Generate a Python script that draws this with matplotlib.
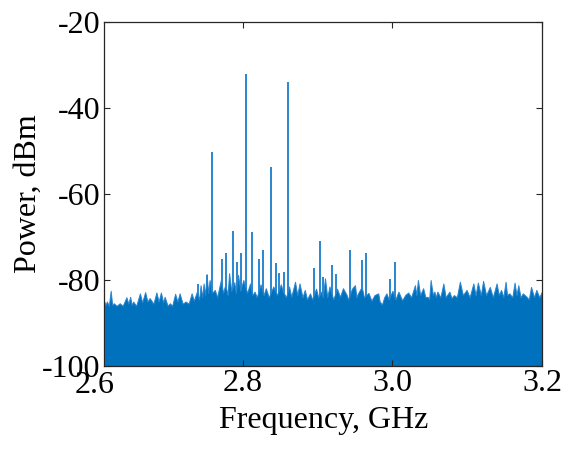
import matplotlib
matplotlib.use("Agg")
import matplotlib.pyplot as plt

# noise floor, upper edge (GHz, dBm)
noise_f = [2.6155, 2.617, 2.619, 2.6215, 2.624, 2.626, 2.628, 2.632, 2.636, 2.640,
           2.645, 2.6475, 2.650, 2.652, 2.654, 2.658, 2.663, 2.666, 2.670, 2.673,
           2.676, 2.681, 2.685, 2.688, 2.691, 2.694, 2.696, 2.700, 2.703, 2.706,
           2.710, 2.713, 2.716, 2.720, 2.724, 2.728, 2.732, 2.735, 2.739, 2.742,
           2.744, 2.746, 2.748, 2.750, 2.752, 2.754, 2.756, 2.759, 2.763, 2.766,
           2.771, 2.774, 2.777, 2.780, 2.782, 2.785, 2.789, 2.791, 2.794, 2.797,
           2.801, 2.806, 2.810, 2.813, 2.816, 2.819, 2.824, 2.828, 2.831, 2.835,
           2.841, 2.846, 2.851, 2.854, 2.858, 2.862, 2.865, 2.870, 2.873, 2.876,
           2.880, 2.883, 2.886, 2.890, 2.893, 2.898, 2.901, 2.905, 2.907, 2.910,
           2.913, 2.916, 2.921, 2.926, 2.930, 2.934, 2.939, 2.941, 2.946, 2.950,
           2.952, 2.954, 2.959, 2.962, 2.968, 2.972, 2.976, 2.981, 2.983, 2.986,
           2.989, 2.992, 2.995, 3.000, 3.004, 3.008, 3.013, 3.017, 3.021, 3.025,
           3.030, 3.032, 3.034, 3.037, 3.041, 3.044, 3.047, 3.049, 3.051, 3.054,
           3.056, 3.058, 3.060, 3.064, 3.068, 3.071, 3.076, 3.079, 3.082, 3.086,
           3.090, 3.094, 3.099, 3.103, 3.108, 3.111, 3.114, 3.118, 3.121, 3.125,
           3.130, 3.134, 3.139, 3.142, 3.145, 3.148, 3.151, 3.153, 3.156, 3.160,
           3.163, 3.1655, 3.168, 3.171, 3.174, 3.179, 3.182, 3.185, 3.189, 3.192,
           3.196, 3.200]
noise_db = [-85.0, -85.8, -85.0, -86.0, -82.5, -85.8, -85.4, -86.0, -85.4, -86.0,
            -84.0, -85.5, -83.9, -85.8, -85.0, -86.0, -83.1, -85.2, -82.8, -85.0,
            -84.2, -85.5, -82.9, -85.0, -82.9, -85.2, -83.9, -86.0, -85.4, -86.0,
            -83.2, -85.0, -83.1, -85.5, -85.0, -85.5, -83.1, -84.8, -82.7, -84.5,
            -81.2, -84.0, -80.8, -83.5, -78.6, -83.0, -80.0, -83.0, -82.3, -84.0,
            -80.0, -83.0, -81.0, -83.5, -78.4, -82.5, -80.5, -83.0, -78.8, -82.5,
            -80.0, -83.0, -80.8, -83.5, -82.7, -84.0, -81.0, -83.5, -81.9, -84.0,
            -81.5, -83.5, -81.0, -82.7, -84.0, -81.5, -83.9, -80.4, -83.5, -80.8,
            -84.0, -82.3, -84.5, -83.1, -84.5, -82.0, -84.0, -82.7, -84.0, -79.6,
            -84.0, -81.5, -84.5, -82.0, -83.9, -81.9, -83.5, -84.5, -82.0, -81.2,
            -84.0, -83.1, -81.6, -84.0, -83.0, -84.8, -83.5, -83.1, -85.0, -85.7,
            -84.0, -83.1, -84.5, -82.5, -84.5, -82.7, -84.7, -83.5, -82.9, -84.0,
            -81.2, -83.5, -80.0, -83.5, -81.9, -84.0, -83.9, -84.5, -80.0, -83.5,
            -82.7, -84.0, -82.7, -84.0, -80.8, -84.0, -82.7, -84.2, -83.5, -84.0,
            -80.4, -83.5, -82.3, -84.0, -80.8, -83.5, -80.6, -83.5, -80.2, -83.5,
            -81.6, -84.0, -80.8, -83.5, -82.3, -84.0, -80.4, -83.5, -83.1, -84.0,
            -80.6, -83.5, -81.2, -84.0, -83.1, -83.9, -84.5, -81.6, -84.0, -82.3,
            -84.0, -82.5]

# spectral lines (GHz, dBm)
peak_f = [2.741, 2.753, 2.759, 2.773, 2.778, 2.7875, 2.793, 2.798, 2.8044, 2.812,
          2.822, 2.827, 2.838, 2.844, 2.849, 2.855, 2.861, 2.8955, 2.9027, 2.908,
          2.919, 2.925, 2.943, 2.9595, 2.965, 2.997, 3.003]
peak_db = [-80.9, -78.8, -50.2, -75.0, -73.7, -68.5, -75.7, -73.7, -32.1, -68.8,
           -75.2, -73.0, -53.7, -76.0, -78.3, -78.1, -34.0, -77.1, -71.0, -79.2,
           -76.5, -78.6, -73.0, -75.3, -73.8, -79.8, -75.7]

y_ticks = [-100, -80, -60, -40, -20]
x_ticks = [2.8, 3.0, 3.2]

blue = "#0072BD"
edge_blue = "#2a86d0"
plt.rcParams["font.family"] = ["Liberation Serif", "DejaVu Serif"]
plt.rcParams["font.size"] = 23

fig = plt.figure(figsize=(5.63, 4.55), dpi=100)
ax = fig.add_axes([0.1853, 0.1956, 0.7779, 0.7560])

# lines first, the noise band covers their lower part
ax.vlines(peak_f, -100, peak_db, color=edge_blue, linewidth=1.4, zorder=1)
ax.fill_between(noise_f, -100, noise_db, facecolor=blue, edgecolor=edge_blue,
                linewidth=0.7, zorder=1.2)

ax.set_xlim(2.6155, 3.2)
ax.set_ylim(-100, -20)
ax.set_xticks(x_ticks)
ax.set_xticklabels(["%.1f" % v for v in x_ticks])
ax.set_yticks(y_ticks)
ax.set_yticklabels([str(v) for v in y_ticks])
# the 2.6 label sits just left of the box in the original
ax.text(2.6 + 0.002, -101.2, "2.6", ha="center", va="top", clip_on=False)

ax.tick_params(direction="in", length=4, width=0.8, color="#262626",
               top=True, right=True)
ax.tick_params(axis="x", pad=2)
ax.tick_params(axis="y", pad=3)
for s in ax.spines.values():
    s.set_color("#262626")
    s.set_linewidth(0.9)

ax.set_xlabel("Frequency, GHz")
ax.set_ylabel("Power, dBm")
ax.xaxis.set_label_coords(0.5, -0.115)
ax.yaxis.set_label_coords(-0.14, 0.5)

fig.savefig("out.png", dpi=100)
